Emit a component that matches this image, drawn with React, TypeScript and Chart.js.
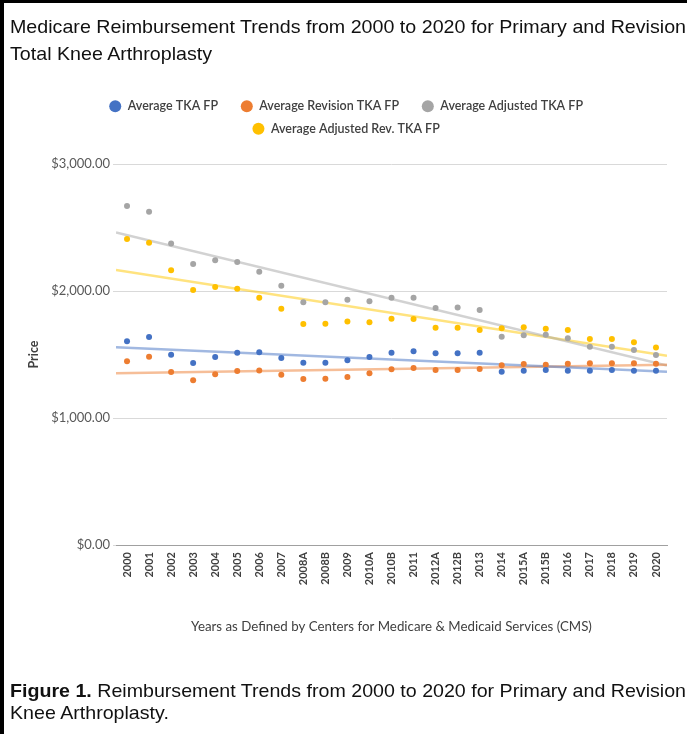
import React, { useEffect, useRef } from 'react';
import { Chart, registerables } from 'chart.js';

Chart.register(...registerables);

const categories = ['2000', '2001', '2002', '2003', '2004', '2005', '2006', '2007', '2008A', '2008B', '2009', '2010A', '2010B', '2011', '2012A', '2012B', '2013', '2014', '2015A', '2015B', '2016', '2017', '2018', '2019', '2020'];

const avgTKA = [1604, 1638, 1499, 1433, 1480, 1514, 1517, 1472, 1436, 1436, 1454, 1480, 1514, 1525, 1509, 1509, 1514, 1365, 1373, 1378, 1373, 1373, 1378, 1373, 1373];
const avgRevTKA = [1446, 1483, 1362, 1297, 1344, 1370, 1375, 1341, 1307, 1310, 1323, 1352, 1383, 1394, 1378, 1378, 1386, 1415, 1425, 1420, 1428, 1431, 1431, 1431, 1428];
const avgAdjTKA = [2669, 2624, 2375, 2213, 2242, 2228, 2152, 2042, 1911, 1911, 1932, 1919, 1947, 1947, 1866, 1871, 1850, 1640, 1651, 1656, 1627, 1562, 1562, 1535, 1496];
const avgAdjRevTKA = [2409, 2380, 2163, 2008, 2031, 2018, 1947, 1861, 1740, 1743, 1759, 1753, 1782, 1780, 1711, 1711, 1693, 1706, 1714, 1703, 1693, 1622, 1622, 1596, 1556];

const seriesNames = ['Average TKA FP', 'Average Revision TKA FP', 'Average Adjusted TKA FP', 'Average Adjusted Rev. TKA FP'];
const seriesColors = ['#4472C4', '#ED7D31', '#A5A5A5', '#FFC000'];
const trendColors = ['rgba(68,114,196,0.5)', 'rgba(237,125,49,0.5)', 'rgba(165,165,165,0.5)', 'rgba(255,200,0,0.5)'];
const yMin = 0;
const yMax = 3000;
const yStep = 1000;

const fmtMoney = (v: number) =>
  '$' + v.toLocaleString('en-US', { minimumFractionDigits: 2, maximumFractionDigits: 2 });

function trend(vals: number[]) {
  const n = vals.length;
  let sx = 0, sy = 0, sxy = 0, sxx = 0;
  vals.forEach((y, i) => { sx += i; sy += y; sxy += i * y; sxx += i * i; });
  const b = (n * sxy - sx * sy) / (n * sxx - sx * sx);
  const a = (sy - b * sx) / n;
  return [{ x: -0.5, y: a - 0.5 * b }, { x: n - 0.5, y: a + b * (n - 0.5) }];
}

const FONT = 'Lato, "Open Sans", sans-serif';

export default function App() {
  const canvasRef = useRef<HTMLCanvasElement>(null);
  const titleRef = useRef<HTMLDivElement>(null);
  const capRef = useRef<HTMLDivElement>(null);

  useEffect(() => {
    [titleRef.current, capRef.current].forEach((el) => {
      if (!el) return;
      const first = el.querySelector('.l1') as HTMLElement;
      const w = first.getBoundingClientRect().width;
      if (w > 0) el.style.transform = `scaleX(${676 / w})`;
    });

    const all = [avgTKA, avgRevTKA, avgAdjTKA, avgAdjRevTKA];
    const pointSets = all.map((vals, k) => ({
      type: 'scatter' as const,
      label: seriesNames[k],
      data: vals.map((v, i) => ({ x: i, y: v })),
      backgroundColor: seriesColors[k],
      borderColor: seriesColors[k],
      borderWidth: 0,
      pointRadius: 3,
      pointStyle: 'circle',
      order: 0,
    }));
    const trendSets = all.map((vals, k) => ({
      type: 'line' as const,
      label: 'trend' + k,
      data: trend(vals),
      borderColor: trendColors[k],
      backgroundColor: trendColors[k],
      borderWidth: 2.5,
      pointRadius: 0,
      fill: false,
      order: 10,
    }));

    const legendSpacer = {
      id: 'legendSpacer',
      afterInit(chart: any) {
        const lg = chart.legend;
        if (!lg || lg._patched) return;
        const orig = lg.fit;
        lg.fit = function () {
          orig.call(this);
          this.height += 19;
        };
        lg._patched = true;
      },
    };

    const chart = new Chart(canvasRef.current!, {
      type: 'scatter',
      data: { datasets: [...pointSets, ...trendSets] as any },
      options: {
        animation: false,
        responsive: false,
        maintainAspectRatio: false,
        devicePixelRatio: 1,
        layout: { padding: { left: 25, right: 23, top: 90, bottom: 99 } },
        plugins: {
          tooltip: { enabled: false },
          legend: {
            display: true,
            position: 'top',
            align: 'center',
            labels: {
              usePointStyle: true,
              pointStyle: 'circle',
              boxHeight: 8.5,
              padding: 10,
              color: '#404040',
              font: { family: FONT, size: 12.5, weight: '600' },
              filter: (item: any) => item.datasetIndex < 4,
              generateLabels: (chart: any) => {
                const items = Chart.defaults.plugins.legend.labels.generateLabels(chart);
                return items.map((it: any) => ({
                  ...it,
                  text: it.datasetIndex === 0 || it.datasetIndex === 1 ? it.text + '\u2002\u2002' : it.text,
                }));
              },
            },
          },
        },
        scales: {
          x: {
            type: 'linear',
            min: -0.5,
            max: categories.length - 0.5,
            afterBuildTicks: (scale: any) => {
              scale.ticks = categories.map((_, i) => ({ value: i }));
            },
            afterFit: (scale: any) => {
              scale.height = 90;
            },
            grid: { display: false, drawTicks: false },
            border: { display: true, color: '#A0A0A0', width: 1 },
            ticks: {
              autoSkip: false,
              minRotation: 90,
              maxRotation: 90,
              padding: 7,
              color: '#404040',
              font: { family: FONT, size: 11, weight: 'bold' },
              callback: (v: any) => categories[Math.round(Number(v))] ?? '',
            },
            title: {
              display: true,
              text: 'Years as Defined by Centers for Medicare & Medicaid Services (CMS)',
              color: '#404040',
              font: { family: FONT, size: 13.3 },
              padding: 0,
            },
          },
          y: {
            type: 'linear',
            min: yMin,
            max: yMax,
            afterFit: (scale: any) => {
              scale.width = 91;
            },
            grid: { color: '#D9D9D9', lineWidth: 1, drawTicks: true, tickLength: 3 },
            border: { display: false },
            ticks: {
              stepSize: yStep,
              padding: 3,
              color: '#595959',
              font: { family: FONT, size: 13 },
              callback: (v: any) => fmtMoney(Number(v)),
            },
            title: {
              display: true,
              text: 'Price',
              color: '#404040',
              font: { family: FONT, size: 12.5, weight: 'bold' },
              padding: { top: 1, bottom: 0 },
            },
          },
        },
      } as any,
      plugins: [legendSpacer],
    });
    return () => chart.destroy();
  }, []);

  const textStyle: React.CSSProperties = {
    position: 'absolute',
    left: 10,
    fontFamily: '"Liberation Sans", Arial, sans-serif',
    fontSize: 18.5,
    color: '#111',
    whiteSpace: 'nowrap',
    transformOrigin: '0 0',
  };

  return (
    <div style={{ position: 'absolute', left: 0, top: 0, width: 690, height: 734, background: '#fff', overflow: 'hidden' }}>
      <canvas ref={canvasRef} width={690} height={734} style={{ position: 'absolute', left: 0, top: 0, width: 690, height: 734 }} />
      <div ref={titleRef} style={{ ...textStyle, top: 14, lineHeight: '26.5px' }}>
        <span className="l1">Medicare Reimbursement Trends from 2000 to 2020 for Primary and Revision</span>
        <br />
        Total Knee Arthroplasty
      </div>
      <div ref={capRef} style={{ ...textStyle, top: 679.6, lineHeight: '22px' }}>
        <span className="l1"><b>Figure 1.</b> Reimbursement Trends from 2000 to 2020 for Primary and Revision</span>
        <br />
        Knee Arthroplasty.
      </div>
      <div style={{ position: 'absolute', left: 0, top: 0, width: 4, height: 734, background: '#000' }} />
      <div style={{ position: 'absolute', left: 0, top: 0, width: 687, height: 3, background: '#000' }} />
    </div>
  );
}
